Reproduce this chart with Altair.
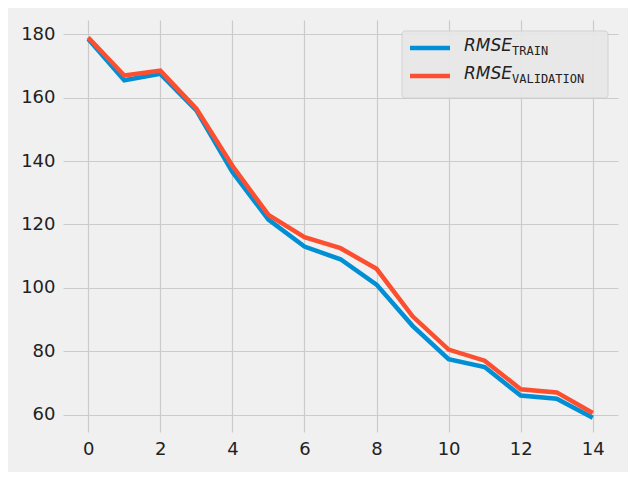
import altair as alt
import pandas as pd

epochs = list(range(15))
rmse_train = [178.5, 165.5, 167.5, 156, 136.5, 121.5, 113, 109, 101, 88, 77.5, 75, 66, 65, 59]
rmse_val = [179, 167, 168.5, 156.5, 138.5, 123, 116, 112.5, 106, 91, 80.5, 77, 68, 67, 60.5]

df = pd.DataFrame({
    "epoch": epochs * 2,
    "rmse": rmse_train + rmse_val,
    "series": ["train"] * 15 + ["validation"] * 15,
})
one = pd.DataFrame({"k": [0]})

x = alt.X("epoch:Q", scale=alt.Scale(domain=[-0.7, 14.7], nice=False, zero=False),
          axis=alt.Axis(values=list(range(0, 15, 2)), title=None))
y = alt.Y("rmse:Q", scale=alt.Scale(domain=[54.5, 184.5], nice=False, zero=False),
          axis=alt.Axis(values=list(range(60, 181, 20)), title=None))

lines = alt.Chart(df).mark_line(strokeWidth=4.5).encode(
    x=x, y=y,
    color=alt.Color("series:N", scale=alt.Scale(domain=["train", "validation"],
                                                range=["#008fd5", "#fc4f30"]), legend=None),
)

box = alt.Chart(one).mark_rect(fill="#e8e8e8", stroke="#d0d0d0", cornerRadius=3, opacity=0.9).encode(
    x=alt.value(339), x2=alt.value(545), y=alt.value(11), y2=alt.value(78))
l1 = alt.Chart(one).mark_rule(color="#008fd5", strokeWidth=4.5).encode(
    x=alt.value(347), x2=alt.value(387), y=alt.value(28))
l2 = alt.Chart(one).mark_rule(color="#fc4f30", strokeWidth=4.5).encode(
    x=alt.value(347), x2=alt.value(387), y=alt.value(56))

def txt(t, xx, yy, size, font, italic):
    kw = dict(text=t, fontSize=size, align="left", baseline="middle", font=font, color="#222")
    if italic:
        kw["fontStyle"] = "italic"
    return alt.Chart(one).mark_text(**kw).encode(x=alt.value(xx), y=alt.value(yy))

t1 = txt("RMSE", 401, 26, 17, "DejaVu Sans", True)
t2 = txt("RMSE", 401, 54, 17, "DejaVu Sans", True)
s1 = txt("TRAIN", 449, 31, 12, "DejaVu Sans Mono", False)
s2 = txt("VALIDATION", 449, 59, 12, "DejaVu Sans Mono", False)

chart = alt.layer(lines, box, l1, l2, t1, t2, s1, s2).properties(
    width=555, height=412, background="#f0f0f0",
    autosize=alt.AutoSizeParams(type="none"),
    padding={"left": 55, "top": 12, "right": 10, "bottom": 40},
).configure_view(stroke=None, fill="#f0f0f0").configure_axis(
    domain=False, ticks=False, gridColor="#cbcbcb", gridWidth=1.2,
    labelFont="DejaVu Sans", labelFontSize=18, labelColor="#222", labelPadding=8,
)

chart.save("out.html", embed_options={"renderer": "svg", "actions": False})
